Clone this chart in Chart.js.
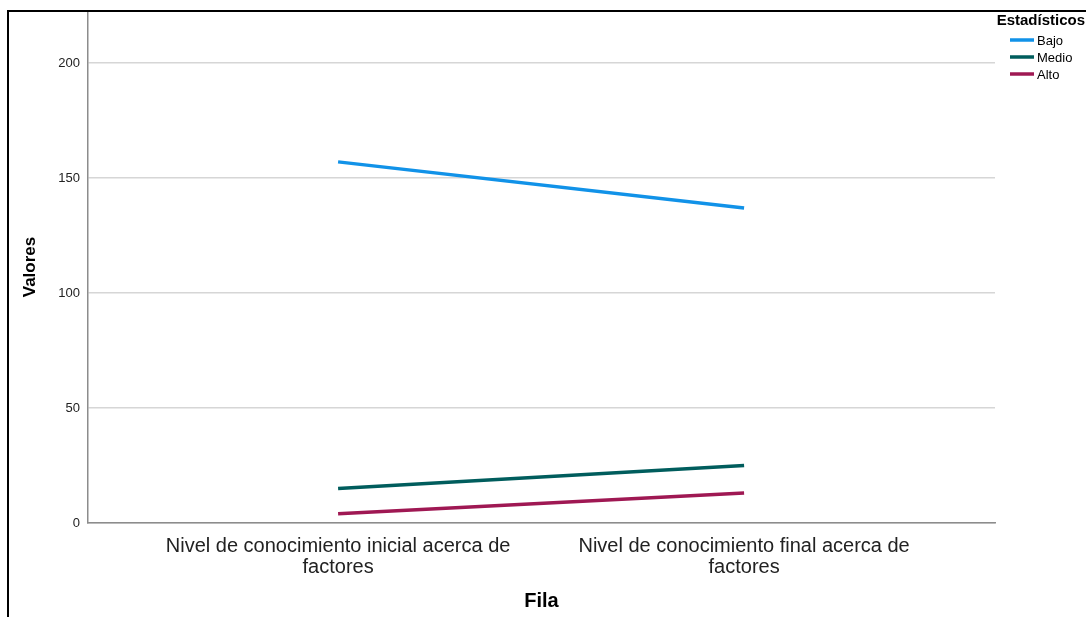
<!DOCTYPE html>
<html lang="es">
<head>
  <meta charset="UTF-8" />
  <title>Valores por Fila</title>
  <script src="https://cdn.jsdelivr.net/npm/chart.js"></script>
  <style>
    * { box-sizing: border-box; }
    body { margin: 0; background: #fff; }
    .wrap { position: relative; width: 1086px; height: 617px; }
  </style>
</head>
<body>
  <div class="wrap"><canvas id="chart"></canvas></div>

  <script>
    // data
    const categories = [
      ["Nivel de conocimiento inicial acerca de", "factores"],
      ["Nivel de conocimiento final acerca de", "factores"]
    ];
    const seriesNames = ["Bajo", "Medio", "Alto"];
    const bajo = [157, 137];
    const medio = [15, 25];
    const alto = [4, 13];
    const yTicks = [0, 50, 100, 150, 200];
    const colors = ["#1192e8", "#005d5d", "#9f1853"];

    Chart.defaults.font.family = "'Liberation Sans', Arial, sans-serif";
    Chart.defaults.color = "#333";

    const toPoints = arr => arr.map((v, i) => ({ x: i, y: v }));

    // black frame on the left and top
    const framePlugin = {
      id: "frame",
      afterDraw(chart) {
        const ctx = chart.ctx;
        ctx.save();
        ctx.strokeStyle = "#000";
        ctx.lineWidth = 2;
        ctx.beginPath();
        ctx.moveTo(8, 617);
        ctx.lineTo(8, 11);
        ctx.lineTo(1086, 11);
        ctx.stroke();
        ctx.restore();
      }
    };

    // legend in the top right corner
    const legendPlugin = {
      id: "sideLegend",
      afterDraw(chart) {
        const ctx = chart.ctx;
        ctx.save();
        ctx.fillStyle = "#000";
        ctx.font = "bold 15px 'Liberation Sans', Arial, sans-serif";
        ctx.textBaseline = "middle";
        ctx.textAlign = "right";
        ctx.fillText("Estadísticos", 1085, 21);
        ctx.font = "13px 'Liberation Sans', Arial, sans-serif";
        ctx.textAlign = "left";
        chart.data.datasets.forEach((ds, i) => {
          const y = 40 + i * 17;
          ctx.strokeStyle = ds.borderColor;
          ctx.lineWidth = 3.5;
          ctx.beginPath();
          ctx.moveTo(1010, y);
          ctx.lineTo(1034, y);
          ctx.stroke();
          ctx.fillStyle = "#000";
          ctx.fillText(ds.label, 1037, y + 1);
        });
        ctx.restore();
      }
    };

    const seriesData = [bajo, medio, alto];

    new Chart(document.getElementById("chart"), {
      type: "line",
      data: {
        datasets: seriesNames.map((name, i) => ({
          label: name,
          data: toPoints(seriesData[i]),
          borderColor: colors[i],
          backgroundColor: colors[i],
          borderWidth: 3.5,
          pointRadius: 0,
          fill: false,
          tension: 0
        }))
      },
      options: {
        responsive: true,
        maintainAspectRatio: false,
        animation: false,
        layout: { padding: { top: 11, right: 91, left: 0, bottom: 0 } },
        plugins: { legend: { display: false }, tooltip: { enabled: false } },
        scales: {
          x: {
            type: "linear",
            min: -0.616,
            max: 1.618,
            afterBuildTicks: s => { s.ticks = categories.map((c, i) => ({ value: i })); },
            afterFit: s => { s.height = 94; s.paddingLeft = 0; s.paddingRight = 0; },
            grid: { display: false, drawTicks: false },
            border: { display: true, color: "#8c8c8c", width: 1.5 },
            ticks: {
              autoSkip: false,
              maxRotation: 0,
              padding: 13,
              color: "#222",
              font: { size: 20, lineHeight: 1.05 },
              callback: v => categories[v]
            },
            title: {
              display: true,
              text: "Fila",
              color: "#000",
              font: { size: 20, weight: "bold" },
              padding: { top: 0, bottom: 4 }
            }
          },
          y: {
            min: 0,
            max: 222.6,
            afterBuildTicks: s => { s.ticks = yTicks.map(v => ({ value: v })); },
            afterFit: s => { s.width = 88; s.paddingTop = 0; s.paddingBottom = 0; },
            grid: { color: "#d6d6d6", lineWidth: 1.5, drawTicks: false },
            border: { display: true, color: "#8c8c8c", width: 1.5 },
            ticks: { padding: 8, color: "#222", font: { size: 13 } },
            title: {
              display: true,
              text: "Valores",
              color: "#000",
              font: { size: 17, weight: "bold" },
              padding: { top: 20, bottom: 0 }
            }
          }
        }
      },
      plugins: [framePlugin, legendPlugin]
    });
  </script>
</body>
</html>
